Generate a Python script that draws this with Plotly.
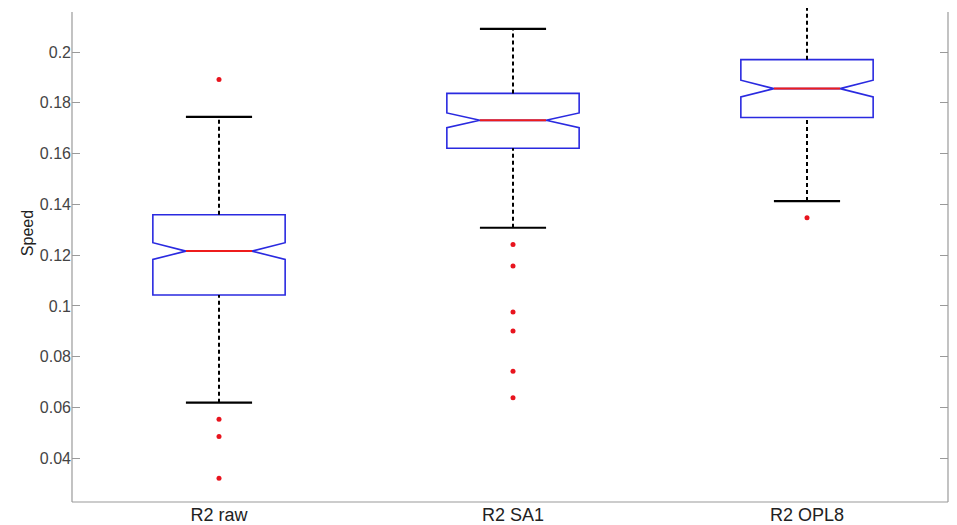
import plotly.graph_objects as go

# ---- data ----
categories = ["R2 raw", "R2 SA1", "R2 OPL8"]
q1 = [0.1043, 0.1621, 0.1742]
median = [0.1216, 0.1731, 0.1856]
q3 = [0.1359, 0.1837, 0.1970]
notch_half = [0.0033, 0.0029, 0.0033]
lower_whisker = [0.0619, 0.1308, 0.1413]
upper_whisker = [0.1745, 0.2091, 0.2280]
outliers = [
    [0.1892, 0.0554, 0.0486, 0.0322],
    [0.1242, 0.1157, 0.0976, 0.0901, 0.0743, 0.0639],
    [0.1347],
]
ytick_vals = [0.04, 0.06, 0.08, 0.10, 0.12, 0.14, 0.16, 0.18, 0.20]
ytick_text = ["0.04", "0.06", "0.08", "0.1", "0.12", "0.14", "0.16", "0.18", "0.2"]

BOX_W = 0.45
CAP_HALF = 0.1125
Y_RANGE = [0.0228, 0.21734]
X_RANGE = [0.5, 3.4796]

# page body has an 8px margin; the figure is sized to fit the visible area
FIG_W, FIG_H = 941, 517
M_L, M_R, M_T, M_B = 64, 1, 0, 20
PLOT_H = FIG_H - M_T - M_B  # 497

xs = [i + 1 for i in range(len(categories))]
fig = go.Figure()

# notched boxes (blue outline)
fig.add_trace(go.Box(
    x=xs, q1=q1, median=median, q3=q3,
    lowerfence=q1, upperfence=q3,
    notchspan=notch_half, notched=True, notchwidth=0.25,
    width=BOX_W, boxpoints=False,
    line=dict(color="#2a2ae0", width=1.6),
    fillcolor="rgba(255,255,255,0)",
    hoverinfo="skip", showlegend=False,
))

for i, x in enumerate(xs):
    # dashed whiskers
    for a, b in [(q3[i], upper_whisker[i]), (lower_whisker[i], q1[i])]:
        fig.add_trace(go.Scatter(
            x=[x, x], y=[a, b], mode="lines",
            line=dict(color="black", width=2, dash="4px,3px"),
            showlegend=False, hoverinfo="skip"))
    # caps
    for w in [upper_whisker[i], lower_whisker[i]]:
        fig.add_trace(go.Scatter(
            x=[x - CAP_HALF, x + CAP_HALF], y=[w, w], mode="lines",
            line=dict(color="black", width=2.2),
            showlegend=False, hoverinfo="skip"))
    # red median inside the notch
    fig.add_trace(go.Scatter(
        x=[x - BOX_W / 4, x + BOX_W / 4], y=[median[i], median[i]], mode="lines",
        line=dict(color="#ee1c1c", width=2),
        showlegend=False, hoverinfo="skip"))
    # outliers
    fig.add_trace(go.Scatter(
        x=[x] * len(outliers[i]), y=outliers[i], mode="markers",
        marker=dict(color="#e8141e", size=5, symbol="circle"),
        showlegend=False, hoverinfo="skip"))

top_frac = (PLOT_H - 4) / PLOT_H
axis_col = "#9a9a9a"
fig.add_shape(type="line", xref="paper", yref="paper", x0=0, x1=0, y0=0, y1=top_frac,
              line=dict(color=axis_col, width=1.2))
fig.add_shape(type="line", xref="paper", yref="paper", x0=1, x1=1, y0=0, y1=top_frac,
              line=dict(color=axis_col, width=1.2))
fig.add_shape(type="line", xref="paper", yref="paper", x0=0, x1=1, y0=0, y1=0,
              line=dict(color=axis_col, width=1.2))

fig.add_annotation(text="Speed", xref="paper", yref="paper",
                   x=-55 / 876.0, y=(505 - 235) / PLOT_H,
                   textangle=-90, showarrow=False,
                   font=dict(family="Liberation Sans, Arial", size=16, color="#222"))

fig.update_layout(
    width=FIG_W, height=FIG_H,
    margin=dict(l=M_L, r=M_R, t=M_T, b=M_B),
    paper_bgcolor="white", plot_bgcolor="white",
    font=dict(family="Liberation Sans, Arial", color="#333"),
    xaxis=dict(range=X_RANGE, tickvals=xs, ticktext=categories,
               showgrid=False, zeroline=False, showline=False, ticks="",
               tickfont=dict(size=18, color="#222")),
    yaxis=dict(range=Y_RANGE, tickvals=ytick_vals, ticktext=ytick_text,
               showgrid=False, zeroline=False, showline=False,
               ticks="inside", ticklen=8, tickcolor=axis_col, mirror="ticks",
               tickfont=dict(size=16, color="#444")),
)

fig.write_html("out.html")
